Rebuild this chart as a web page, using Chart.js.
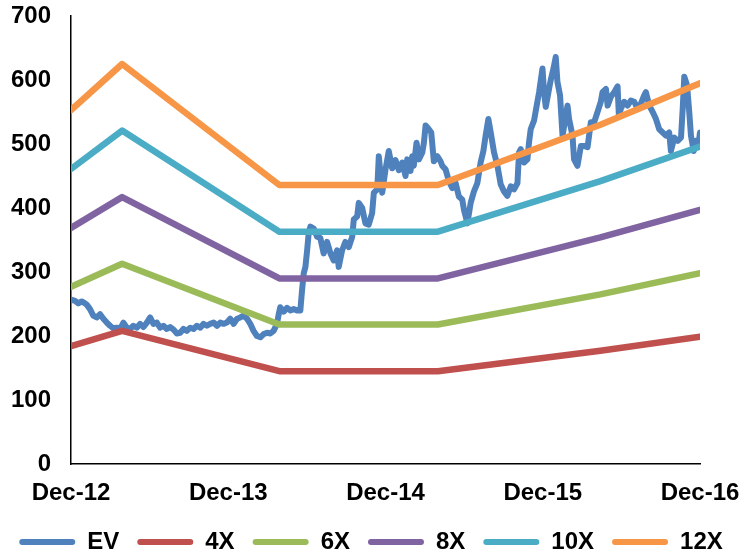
<!DOCTYPE html>
<html><head><meta charset="utf-8">
<script src="https://cdn.jsdelivr.net/npm/chart.js@4.4.1/dist/chart.umd.min.js"></script>
<style>html,body{margin:0;padding:0;background:#fff;overflow:hidden;width:742px;height:556px;} canvas{display:block;}</style>
</head><body>
<canvas id="c" width="742" height="564"></canvas>
<script>
// X tick labels (one every 12 months, starting Dec-12)
const xTickLabels = ["Dec-12", "Dec-13", "Dec-14", "Dec-15", "Dec-16"];

// Valuation band breakpoints (months after Dec-12)
const bandMonths = [0, 3.9, 15.9, 28.0, 40.4, 48];
const band4X  = [184, 208, 145, 145, 177, 199];
const band6X  = [277, 313, 218, 218, 265, 298];
const band8X  = [369, 417, 290, 290, 354, 397];
const band10X = [461, 521, 363, 363, 442, 496];
const band12X = [553, 625, 436, 436, 530, 595];

// EV series (months after Dec-12, value)
const evMonths = [0.00,0.31,0.56,0.82,1.07,1.20,1.45,1.70,1.96,2.22,
2.47,2.73,2.98,3.23,3.49,3.75,4.00,4.26,4.51,4.76,
5.02,5.27,5.53,5.79,6.04,6.29,6.55,6.80,7.05,7.31,
7.57,7.82,8.08,8.33,8.58,8.84,9.10,9.35,9.61,9.86,
10.11,10.37,10.62,10.88,11.14,11.39,11.64,11.90,12.15,12.41,
12.67,12.92,13.17,13.43,13.68,13.93,14.19,14.45,14.70,14.96,
15.21,15.46,15.72,15.85,15.97,16.23,16.49,16.74,16.99,17.25,
17.50,17.63,17.76,17.89,18.02,18.14,18.27,18.52,18.78,19.03,
19.28,19.54,19.80,20.05,20.31,20.43,20.69,20.94,21.20,21.46,
21.58,21.84,21.96,22.22,22.47,22.72,22.98,23.11,23.37,23.49,
23.75,24.00,24.25,24.51,24.76,25.02,25.28,25.53,25.66,25.91,
26.04,26.16,26.37,26.55,26.81,26.93,27.06,27.31,27.49,27.69,
27.95,28.20,28.33,28.59,28.84,29.10,29.35,29.60,29.86,29.99,
30.25,30.50,30.75,31.01,31.26,31.47,31.64,31.85,32.03,32.28,
32.54,32.79,33.04,33.30,33.56,33.81,34.07,34.19,34.32,34.57,
34.83,34.95,35.08,35.34,35.59,35.72,35.98,36.10,36.23,36.48,
36.61,36.82,36.99,37.12,37.32,37.51,37.76,37.89,38.01,38.27,
38.39,38.65,38.91,39.16,39.42,39.67,39.92,40.18,40.43,40.56,
40.82,40.95,41.20,41.45,41.71,41.81,41.96,42.21,42.47,42.73,
42.98,43.24,43.49,43.74,43.87,44.13,44.39,44.64,44.89,45.15,
45.40,45.65,45.78,46.04,46.30,46.55,46.68,46.80,47.01,47.18,
47.31,47.52,47.69,47.87,48.00];
const evValues = [257,255,251,254,251,249,242,232,229,234,
227,221,216,212,213,211,221,213,211,216,
213,219,214,221,229,219,221,213,216,211,
214,210,204,205,211,208,213,211,216,213,
219,216,219,221,216,221,219,221,227,219,
227,229,232,227,219,208,200,198,203,205,
204,208,219,234,245,238,244,240,242,240,
240,271,298,308,334,361,371,368,355,353,
329,347,329,318,334,308,334,347,339,355,
382,387,408,400,376,374,392,424,429,481,
424,460,489,462,475,459,471,450,476,458,
481,466,502,476,487,502,529,523,518,473,
481,473,466,460,442,431,439,418,413,397,
376,408,426,439,471,489,513,539,518,487,
466,437,426,419,434,429,439,487,492,471,
476,502,523,537,566,581,618,581,558,586,
600,618,636,597,576,513,544,560,539,513,
476,466,497,497,495,534,534,550,566,581,
586,560,574,581,590,544,555,566,560,568,
566,555,563,576,581,560,550,539,523,518,
513,518,489,510,505,510,555,605,592,550,
513,489,505,497,518];

const seriesNames = ["EV", "4X", "6X", "8X", "10X", "12X"];
const seriesColors = ["#4F81BD", "#C0504D", "#9BBB59", "#8064A2", "#4BACC6", "#F79646"];

const toPts = (xs, ys) => xs.map((x, i) => ({x: x, y: ys[i]}));
const bands = [band4X, band6X, band8X, band10X, band12X];

const datasets = [{
  label: seriesNames[0],
  data: toPts(evMonths, evValues),
  borderColor: seriesColors[0], backgroundColor: seriesColors[0],
  borderWidth: 6, order: 1
}].concat(bands.map((b, i) => ({
  label: seriesNames[i + 1],
  data: toPts(bandMonths, b),
  borderColor: seriesColors[i + 1], backgroundColor: seriesColors[i + 1],
  borderWidth: 6.5, order: 0
})));
datasets.forEach(d => { d.pointRadius = 0; d.tension = 0; d.borderCapStyle = 'round'; d.borderJoinStyle = 'round'; d.fill = false; });

Chart.defaults.font.family = '"Liberation Sans", Arial, sans-serif';
Chart.defaults.font.weight = 'bold';
Chart.defaults.font.size = 24;
Chart.defaults.color = '#000';

new Chart(document.getElementById('c'), {
  type: 'line',
  data: { datasets: datasets },
  options: {
    responsive: false, devicePixelRatio: 1, animation: false,
    layout: { padding: { top: 16, left: 0, right: 0, bottom: 0 } },
    scales: {
      x: {
        type: 'linear', min: 0, max: 48,
        ticks: { stepSize: 12, autoSkip: false, maxRotation: 0, padding: 14.5,
                 callback: (v) => xTickLabels[Math.round(v / 12)] },
        grid: { display: false, drawTicks: false },
        border: { display: true, color: '#000', width: 1.5 },
        afterFit: (s) => { s.height = 48; s.paddingRight = 42; }
      },
      y: {
        min: 0, max: 700,
        ticks: { stepSize: 100, padding: 20 },
        grid: { display: false, drawTicks: false },
        border: { display: true, color: '#000', width: 1.5 },
        afterFit: (s) => { s.width = 71; s.paddingTop = 0; s.paddingBottom = 0; }
      }
    },
    plugins: {
      tooltip: { enabled: false },
      legend: {
        position: 'bottom',
        labels: {
          boxWidth: 56, boxHeight: 6, padding: 18,
          useBorderRadius: true, borderRadius: 3,
          sort: (a, b) => a.datasetIndex - b.datasetIndex,
          generateLabels: (chart) => {
            const items = Chart.defaults.plugins.legend.labels.generateLabels(chart);
            items.forEach(it => { it.lineWidth = 0; it.fillStyle = it.strokeStyle; });
            return items;
          }
        }
      }
    }
  }
});
</script>
</body></html>
